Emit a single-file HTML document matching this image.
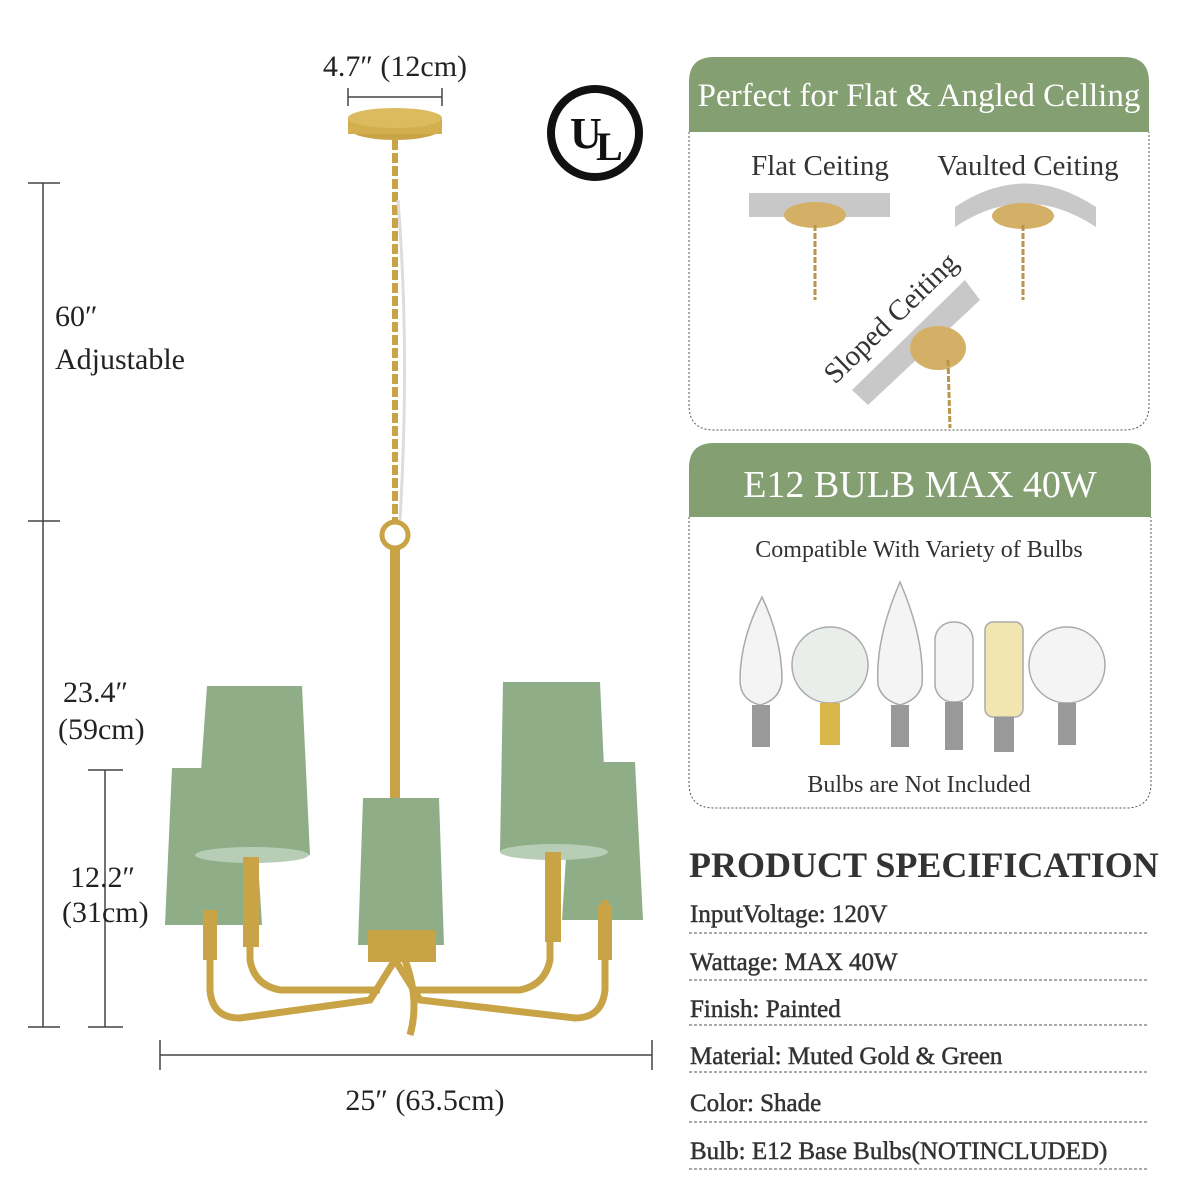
<!DOCTYPE html>
<html><head><meta charset="utf-8"><style>
html,body{margin:0;padding:0;background:#fff}
svg{display:block}
text{font-family:"Liberation Serif",serif}
</style></head><body>
<svg width="1200" height="1200" viewBox="0 0 1200 1200" xmlns="http://www.w3.org/2000/svg">
<rect width="1200" height="1200" fill="#fff"/>
<g stroke="#444" stroke-width="1.5" fill="none">
<line x1="348" y1="97" x2="442" y2="97"/><line x1="348" y1="88" x2="348" y2="106"/><line x1="442" y1="88" x2="442" y2="106"/>
<line x1="43" y1="183" x2="43" y2="1027"/><line x1="28" y1="183" x2="60" y2="183"/><line x1="28" y1="521" x2="60" y2="521"/><line x1="28" y1="1027" x2="60" y2="1027"/>
<line x1="105" y1="770" x2="105" y2="1027"/><line x1="88" y1="770" x2="123" y2="770"/><line x1="88" y1="1027" x2="123" y2="1027"/>
<line x1="160" y1="1055" x2="652" y2="1055"/><line x1="160" y1="1040" x2="160" y2="1070"/><line x1="652" y1="1040" x2="652" y2="1070"/>
</g>
<g fill="#222" font-size="30">
<text x="395" y="76" text-anchor="middle">4.7″ (12cm)</text>
<text x="55" y="326">60″</text>
<text x="55" y="369">Adjustable</text>
<text x="63" y="702">23.4″</text>
<text x="58" y="739">(59cm)</text>
<text x="70" y="887">12.2″</text>
<text x="62" y="922">(31cm)</text>
<text x="425" y="1110" text-anchor="middle">25″ (63.5cm)</text>
</g>
<circle cx="595" cy="133" r="44" fill="none" stroke="#111" stroke-width="8"/>
<text x="570" y="148" font-size="44" font-weight="bold" fill="#111" font-family="Liberation Sans,sans-serif">U</text>
<text x="596" y="160" font-size="40" font-weight="bold" fill="#111" font-family="Liberation Sans,sans-serif">L</text>
<ellipse cx="395" cy="128" rx="47" ry="12" fill="#c9a446"/>
<rect x="348" y="118" width="94" height="16" fill="#d4af50"/>
<ellipse cx="395" cy="118" rx="47" ry="10" fill="#dcbb5e"/>
<path d="M395 140 L395 520" stroke="#c9a446" stroke-width="6" stroke-dasharray="10 3"/>
<path d="M398 200 Q410 350 400 520" stroke="#ddd" stroke-width="3" fill="none"/>
<circle cx="395" cy="535" r="13" fill="none" stroke="#c9a446" stroke-width="5"/>
<rect x="390" y="548" width="10" height="390" fill="#c9a446"/>
<path d="M172 768 L252 768 L262 925 L165 925 Z" fill="#8fae87"/>
<path d="M572 762 L635 762 L643 920 L562 920 Z" fill="#8fae87"/>
<g stroke="#c9a446" stroke-width="7" fill="none">
<path d="M210 910 L210 990 Q212 1018 240 1018 L370 1000 L395 960"/>
<path d="M250 840 L250 960 Q254 985 280 990 L380 990"/>
<path d="M605 900 L605 990 Q602 1018 575 1018 L420 1000 L395 960"/>
<path d="M550 840 L550 960 Q545 985 520 990 L410 990"/>
<path d="M405 960 Q420 1000 410 1035"/>
</g>
<path d="M207 686 L302 686 L310 855 L195 855 Z" fill="#8fae87"/>
<ellipse cx="252" cy="855" rx="57" ry="8" fill="#b7cdb6"/>
<path d="M503 682 L600 682 L608 852 L500 852 Z" fill="#8fae87"/>
<ellipse cx="554" cy="852" rx="54" ry="8" fill="#b7cdb6"/>
<path d="M363 798 L439 798 L444 945 L358 945 Z" fill="#8fae87"/>
<rect x="243" y="857" width="16" height="90" fill="#c9a446"/>
<rect x="545" y="852" width="16" height="90" fill="#c9a446"/>
<rect x="368" y="930" width="68" height="32" fill="#c9a446"/>
<rect x="203" y="910" width="14" height="50" fill="#c9a446"/>
<rect x="598" y="905" width="14" height="55" fill="#c9a446"/>
<path d="M689 132 L689 82 Q689 57 714 57 L1124 57 Q1149 57 1149 82 L1149 132 Z" fill="#849f72"/>
<path d="M689 132 L689 405 Q689 430 714 430 L1124 430 Q1149 430 1149 405 L1149 132" fill="none" stroke="#555" stroke-width="1" stroke-dasharray="2 2"/>
<text x="919" y="106" text-anchor="middle" font-size="33" fill="#fff">Perfect for Flat &amp; Angled Celling</text>
<text x="820" y="175" text-anchor="middle" font-size="29" fill="#333">Flat Ceiting</text>
<text x="1028" y="175" text-anchor="middle" font-size="29" fill="#333">Vaulted Ceiting</text>
<rect x="749" y="193" width="141" height="24" fill="#c8c8c8"/>
<path d="M955 227 Q1025 180 1096 227 L1096 207 Q1025 160 955 207 Z" fill="#c8c8c8"/>
<polygon points="852,390 965,280 980,300 868,405" fill="#c8c8c8"/>
<g fill="#d4b066">
<ellipse cx="815" cy="215" rx="31" ry="13"/><ellipse cx="1023" cy="216" rx="31" ry="13"/>
<ellipse cx="938" cy="348" rx="28" ry="22"/>
</g>
<g stroke="#b8954a" stroke-width="3" stroke-dasharray="6 2">
<line x1="815" y1="225" x2="815" y2="300"/><line x1="1023" y1="225" x2="1023" y2="300"/><line x1="948" y1="360" x2="950" y2="428"/>
</g>
<text x="0" y="0" font-size="29" fill="#333" transform="translate(835,385) rotate(-44)">Sloped Ceiting</text>
<path d="M689 517 L689 468 Q689 443 714 443 L1126 443 Q1151 443 1151 468 L1151 517 Z" fill="#849f72"/>
<path d="M689 517 L689 783 Q689 808 714 808 L1126 808 Q1151 808 1151 783 L1151 517" fill="none" stroke="#555" stroke-width="1" stroke-dasharray="2 2"/>
<text x="920" y="497" text-anchor="middle" font-size="38" fill="#fff">E12 BULB MAX 40W</text>
<text x="919" y="557" text-anchor="middle" font-size="24" fill="#333">Compatible With Variety of Bulbs</text>
<text x="919" y="792" text-anchor="middle" font-size="24" fill="#333">Bulbs are Not Included</text>
<g stroke="#aaa" stroke-width="1.5" fill="#f4f4f4">
<path d="M762 597 Q740 640 740 680 Q740 700 760 705 Q780 700 782 680 Q782 640 762 597 Z"/>
<circle cx="830" cy="665" r="38" fill="#eaeeea"/>
<path d="M900 582 Q875 640 878 685 Q882 700 900 705 Q918 700 922 685 Q925 640 900 582 Z"/>
<rect x="935" y="622" width="38" height="80" rx="18"/>
<rect x="985" y="622" width="38" height="95" rx="8" fill="#f2e6b0"/>
<circle cx="1067" cy="665" r="38"/>
</g>
<g fill="#999">
<rect x="752" y="705" width="18" height="42"/><rect x="820" y="703" width="20" height="42" fill="#d9b64a"/>
<rect x="891" y="705" width="18" height="42"/><rect x="945" y="702" width="18" height="48"/>
<rect x="994" y="717" width="20" height="35"/><rect x="1058" y="703" width="18" height="42"/>
</g>
<text x="689" y="877" font-size="36" font-weight="bold" fill="#333">PRODUCT SPECIFICATION</text>
<g font-size="25" fill="#333" stroke="#333" stroke-width="0.5">
<text x="690" y="922">InputVoltage: 120V</text>
<text x="690" y="970">Wattage: MAX 40W</text>
<text x="690" y="1017">Finish: Painted</text>
<text x="690" y="1064">Material: Muted Gold &amp; Green</text>
<text x="690" y="1111">Color: Shade</text>
<text x="690" y="1159">Bulb: E12 Base Bulbs(NOTINCLUDED)</text>
</g>
<g stroke="#777" stroke-width="1.2" stroke-dasharray="3 2">
<line x1="689" y1="933" x2="1147" y2="933"/><line x1="689" y1="980" x2="1147" y2="980"/>
<line x1="689" y1="1025" x2="1147" y2="1025"/><line x1="689" y1="1072" x2="1147" y2="1072"/>
<line x1="689" y1="1122" x2="1147" y2="1122"/><line x1="689" y1="1169" x2="1147" y2="1169"/>
</g>
</svg>
</body></html>
